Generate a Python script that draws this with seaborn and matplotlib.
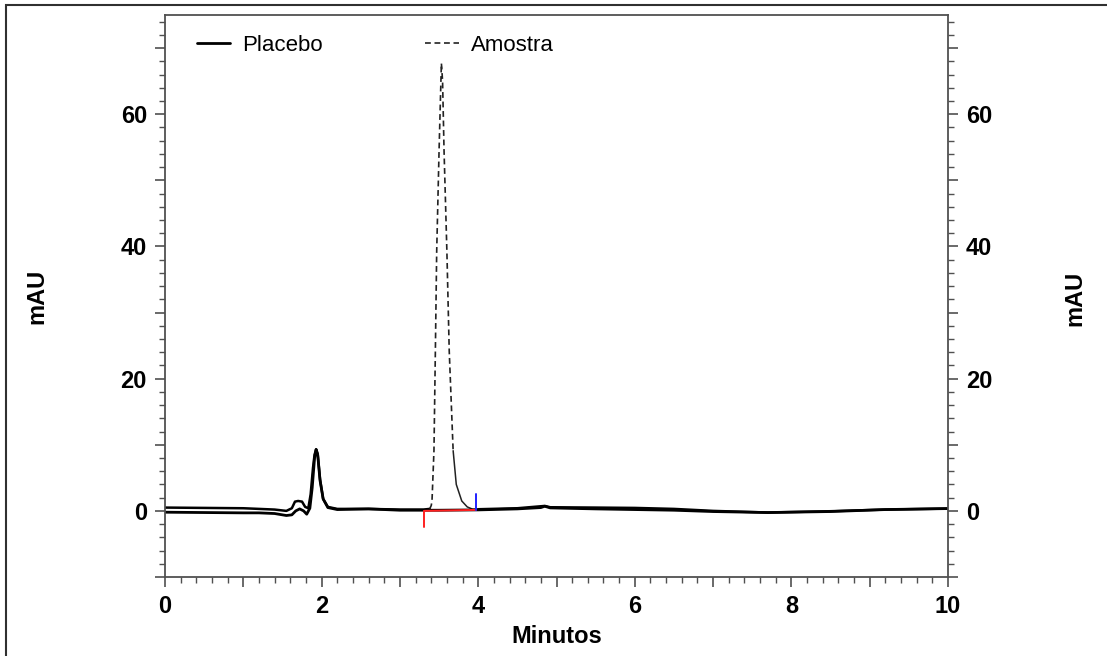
import matplotlib
matplotlib.use("Agg")
import matplotlib.pyplot as plt
import seaborn as sns
import pandas as pd
from matplotlib.ticker import MultipleLocator, FuncFormatter
from matplotlib.lines import Line2D
from matplotlib.patches import Rectangle

# Placebo (solid)
placebo_t = [0, 0.5, 1.0, 1.2, 1.4, 1.55, 1.62, 1.67, 1.72, 1.77, 1.81, 1.85, 1.88, 1.91,
             1.93, 1.95, 1.98, 2.02, 2.08, 2.2, 2.6, 3.0, 3.5, 4.0, 4.5, 4.8, 4.85, 4.92,
             5.5, 6.0, 6.5, 7.0, 7.7, 8.5, 9.2, 10]
placebo_v = [-0.2, -0.25, -0.3, -0.3, -0.4, -0.7, -0.6, 0.0, 0.3, 0.0, -0.5, 0.4, 3.5, 8.0,
             9.3, 8.5, 4.6, 1.8, 0.5, 0.2, 0.3, 0.1, 0.1, 0.15, 0.3, 0.5, 0.7, 0.45,
             0.3, 0.2, 0.1, -0.1, -0.25, -0.1, 0.2, 0.35]

# Amostra (dashed)
amostra_t = [0, 0.5, 1.0, 1.2, 1.4, 1.55, 1.62, 1.66, 1.70, 1.75, 1.79, 1.83, 1.86, 1.89,
             1.91, 1.93, 1.95, 1.98, 2.02, 2.08, 2.2, 2.6, 3.0, 3.3, 3.38, 3.40, 3.41,
             3.435, 3.453, 3.47, 3.50, 3.53, 3.545, 3.564, 3.60, 3.63, 3.68, 3.72, 3.79,
             3.86, 3.93, 4.0, 4.5, 4.85, 4.92, 5.5, 6.0, 6.5, 7.0, 7.7, 8.5, 9.2, 10]
amostra_v = [0.5, 0.45, 0.4, 0.3, 0.2, 0.0, 0.4, 1.4, 1.5, 1.4, 0.6, 0.4, 2.5, 6.5,
             8.5, 9.3, 8.6, 4.8, 1.8, 0.6, 0.3, 0.3, 0.2, 0.2, 0.3, 0.8, 1.5,
             9.1, 24.2, 39.3, 54.4, 67.7, 65.0, 54.4, 39.3, 24.2, 9.1, 4.0, 1.5,
             0.6, 0.25, 0.25, 0.4, 0.75, 0.55, 0.5, 0.45, 0.3, 0.0, -0.25, -0.05, 0.2, 0.35]

# integration marks
base_t = [3.31, 3.97]
base_v = [0.0, 0.15]
start_mark = [0.0, -2.4]
end_mark = [0.2, 2.6]

df_p = pd.DataFrame({"Minutos": placebo_t, "mAU": placebo_v})
df_a = pd.DataFrame({"Minutos": amostra_t, "mAU": amostra_v})

# the detector software draws the dash pattern only on the steep peak flanks
peak = df_a[(df_a["Minutos"] >= 3.38) & (df_a["Minutos"] <= 3.68)]
tail = df_a[(df_a["Minutos"] >= 3.68) & (df_a["Minutos"] <= 4.0)]
before = df_a[df_a["Minutos"] <= 3.38]
after = df_a[df_a["Minutos"] >= 4.0]

sns.set_style("ticks")
plt.rcParams["font.family"] = ["Liberation Sans", "DejaVu Sans"]
plt.rcParams["text.color"] = "black"

fig = plt.figure(figsize=(11.07, 6.56), dpi=100)
ax = fig.add_axes([165 / 1107, 79 / 656, 783 / 1107, 562 / 656])

dash = (0, (3.5, 2.2))
sns.lineplot(data=before, x="Minutos", y="mAU", ax=ax, color="black", linewidth=1.8, sort=False)
sns.lineplot(data=after, x="Minutos", y="mAU", ax=ax, color="black", linewidth=1.8, sort=False)
sns.lineplot(data=peak, x="Minutos", y="mAU", ax=ax, color="#222222", linewidth=1.2,
             linestyle=dash, sort=False)
sns.lineplot(data=tail, x="Minutos", y="mAU", ax=ax, color="#222222", linewidth=1.1, sort=False)
sns.lineplot(data=df_p, x="Minutos", y="mAU", ax=ax, color="black", linewidth=2.0, sort=False)

ax.plot(base_t, base_v, color="#ff2020", linewidth=1.4)
ax.plot([base_t[0], base_t[0]], start_mark, color="#ff2020", linewidth=1.4)
ax.plot([base_t[1], base_t[1]], end_mark, color="#2020ff", linewidth=1.4)

ax.set_xlim(0, 10)
ax.set_ylim(-10, 75)

gray = "#505050"
for s in ax.spines.values():
    s.set_color(gray)
    s.set_linewidth(1.3)

ax.xaxis.set_major_locator(MultipleLocator(1))
ax.xaxis.set_minor_locator(MultipleLocator(0.2))
ax.yaxis.set_major_locator(MultipleLocator(10))
ax.yaxis.set_minor_locator(MultipleLocator(2))
ax.xaxis.set_major_formatter(FuncFormatter(lambda v, p: f"{int(round(v))}" if round(v) % 2 == 0 else ""))
ax.yaxis.set_major_formatter(FuncFormatter(lambda v, p: f"{int(round(v))}" if round(v) % 20 == 0 else ""))

ax.tick_params(axis="both", which="major", length=7, width=1.2, color=gray, direction="out",
               labelsize=17, pad=6, labelcolor="black")
ax.tick_params(axis="both", which="minor", length=4, width=1.0, color=gray, direction="out")
ax.tick_params(axis="y", left=True, right=True, labelleft=True, labelright=True, which="both")
for lab in ax.get_xticklabels() + ax.get_yticklabels():
    lab.set_fontweight("bold")

ax.set_xlabel("Minutos", fontsize=17, fontweight="bold", color="black")
ax.xaxis.set_label_coords(0.5, -0.085)
ax.set_ylabel("mAU", fontsize=17, fontweight="bold", color="black")
ax.yaxis.set_label_coords(-0.149, 0.5)
fig.text(1075 / 1107, 1 - 298 / 656, "mAU", rotation=90, fontsize=17, fontweight="bold",
         ha="center", va="center", color="black")

handles = [Line2D([], [], color="black", linewidth=2.0),
           Line2D([], [], color="#222222", linewidth=1.2, linestyle=dash)]
ax.legend(handles, ["Placebo", "Amostra"], loc="upper left", ncol=2, frameon=False,
          bbox_to_anchor=((197 - 165) / 783, 0.965), borderpad=0, borderaxespad=0,
          handlelength=1.5, handletextpad=0.55, columnspacing=4.6, fontsize=16,
          labelcolor="black")

fig.patches.append(Rectangle((6 / 1107, -0.1), 1.2, 1 - 5 / 656 + 0.1, transform=fig.transFigure,
                             fill=False, edgecolor="#303030", linewidth=1.5))

fig.savefig("out.png", dpi=100)
